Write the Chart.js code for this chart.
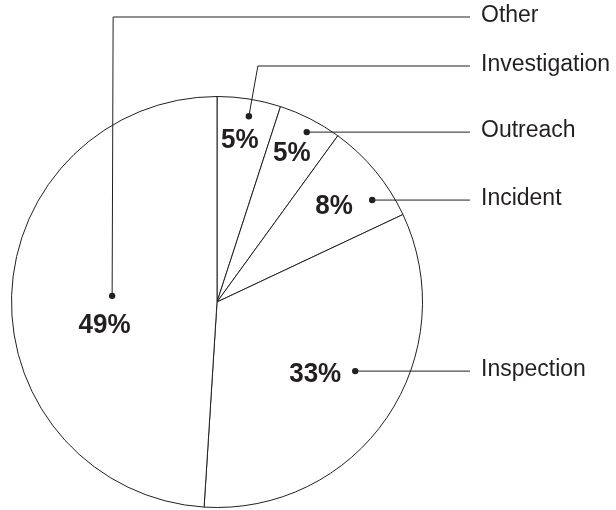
<!DOCTYPE html>
<html lang="en">
<head>
    <meta charset="UTF-8">
    <title>Pie</title>
    <script src="https://cdn.jsdelivr.net/npm/chart.js"></script>
    <style>
        html, body {
            margin: 0;
            padding: 0;
            background: #fff;
        }

        #wrap {
            width: 616px;
            height: 510px;
        }
    </style>
</head>
<body>
    <div id="wrap">
        <canvas id="myChart" width="616" height="510"></canvas>
    </div>

    <script>
        // data (clockwise from 12 o'clock)
        const categories = ['Investigation', 'Outreach', 'Incident', 'Inspection', 'Other'];
        const shares = [5, 5, 8, 33, 49];

        // where each label sits / how its leader runs (styling only)
        const place = [
            { shift: -1, frac: 0.80, dot: [9, -23], rowY: 66, elbowDx: 9 },
            { shift: -0.5, frac: 0.815, dot: [15, -20], rowY: null, elbowDx: 0 },
            { shift: 0, frac: 0.74, dot: [38, -5], rowY: null, elbowDx: 0 },
            { shift: 1.7, frac: 0.59, dot: [40, -2], rowY: null, elbowDx: 0 },
            { shift: -12.8, frac: 0.557, dot: [7.5, -28], rowY: 17, elbowDx: 1 }
        ];
        const lineEndX = 470;
        const textX = 481;

        const labelPlugin = {
            id: 'pieLabels',
            afterDatasetsDraw(chart) {
                const ctx = chart.ctx;
                const arcs = chart.getDatasetMeta(0).data;
                const values = chart.data.datasets[0].data;
                const total = values.reduce((a, b) => a + b, 0);

                arcs.forEach((arc, i) => {
                    const p = place[i];
                    const mid = (arc.startAngle + arc.endAngle) / 2 + p.shift * Math.PI / 180;
                    const tx = arc.x + Math.cos(mid) * arc.outerRadius * p.frac;
                    const ty = arc.y + Math.sin(mid) * arc.outerRadius * p.frac;

                    // percentage (slightly condensed, like the original type)
                    ctx.save();
                    ctx.fillStyle = '#231f20';
                    ctx.translate(tx, ty + 1);
                    ctx.scale(0.93, 1);
                    ctx.font = 'bold 28px "Liberation Sans", Arial, sans-serif';
                    ctx.textAlign = 'center';
                    ctx.textBaseline = 'middle';
                    ctx.fillText(Math.round(values[i] / total * 100) + '%', 0, 0);
                    ctx.restore();

                    // leader line with dot
                    ctx.save();
                    ctx.fillStyle = '#231f20';
                    const dx = tx + p.dot[0];
                    const dy = ty + p.dot[1];
                    const rowY = p.rowY === null ? dy : p.rowY;
                    ctx.strokeStyle = '#231f20';
                    ctx.lineWidth = 1;
                    ctx.beginPath();
                    ctx.moveTo(dx, dy);
                    if (p.rowY !== null) {
                        ctx.lineTo(dx + p.elbowDx, rowY);
                    }
                    ctx.lineTo(lineEndX, rowY);
                    ctx.stroke();

                    ctx.beginPath();
                    ctx.arc(dx, dy, 3.2, 0, Math.PI * 2);
                    ctx.fill();

                    // category name
                    ctx.font = '23px "Liberation Sans", Arial, sans-serif';
                    ctx.textAlign = 'left';
                    ctx.textBaseline = 'middle';
                    ctx.fillText(chart.data.labels[i], textX, rowY - 1);
                    ctx.restore();
                });
            }
        };

        const data = {
            labels: categories,
            datasets: [{
                data: shares,
                backgroundColor: '#ffffff',
                borderColor: '#231f20',
                borderWidth: 1
            }]
        };

        const config = {
            type: 'pie',
            data: data,
            options: {
                responsive: false,
                animation: false,
                layout: {
                    padding: { left: 11, right: 193, top: 96, bottom: 2 }
                },
                plugins: {
                    legend: { display: false },
                    tooltip: { enabled: false }
                }
            },
            plugins: [labelPlugin]
        };

        var myChart = new Chart(document.getElementById('myChart'), config);
    </script>
</body>
</html>
